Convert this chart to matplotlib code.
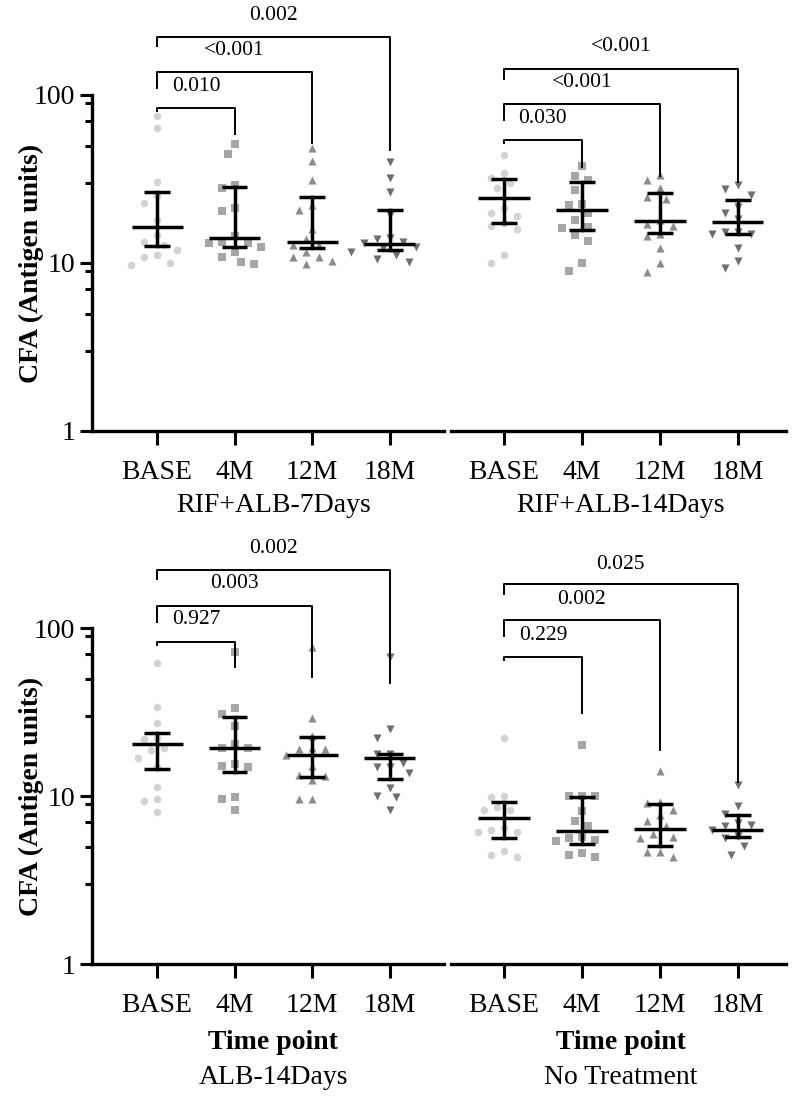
import numpy as np
import matplotlib
matplotlib.use("Agg")
import matplotlib.pyplot as plt
import matplotlib.transforms as mtransforms
from matplotlib.ticker import FixedLocator, NullFormatter

plt.rcParams['font.family'] = ['Liberation Serif', 'DejaVu Serif']

time_points = ['BASE', '4M', '12M', '18M']
group_names = ['RIF+ALB-7Days', 'RIF+ALB-14Days', 'ALB-14Days', 'No Treatment']

# individual values (antigen units)
rif7_base = [74.8, 63.4, 30.3, 25.2, 22.7, 18.0, 14.6, 13.4, 12.8, 11.9, 11.2, 10.9, 10.0, 9.7]
rif7_4m = [51.0, 44.5, 29.3, 28.1, 21.2, 20.5, 14.4, 13.3, 13.2, 13.2, 12.5, 11.7, 10.9, 10.2, 9.8]
rif7_12m = [48.4, 40.7, 31.3, 22.2, 20.8, 16.0, 13.9, 12.8, 12.8, 11.6, 10.9, 10.8, 10.3, 9.9]
rif7_18m = [40.1, 32.1, 26.6, 19.2, 14.0, 13.9, 13.3, 13.2, 12.5, 12.2, 11.7, 11.1, 10.6, 10.2]

rif14_base = [43.9, 34.5, 32.0, 30.1, 27.9, 21.2, 19.8, 19.0, 17.3, 16.5, 16.0, 11.1, 10.0]
rif14_4m = [38.0, 33.1, 31.0, 27.3, 22.6, 22.0, 19.8, 18.0, 16.4, 16.2, 14.6, 13.6, 10.0, 9.0]
rif14_12m = [33.4, 31.0, 27.8, 24.6, 24.2, 18.0, 17.0, 16.5, 14.8, 14.5, 12.3, 10.0, 8.8]
rif14_18m = [29.0, 27.5, 25.5, 21.6, 19.8, 18.4, 15.3, 15.3, 14.8, 14.8, 12.2, 10.3, 9.3]

alb_base = [61.5, 33.8, 27.3, 22.1, 21.8, 19.2, 18.8, 16.9, 14.8, 11.3, 9.6, 9.4, 8.0]
alb_4m = [72.1, 33.5, 30.8, 26.2, 20.4, 19.2, 19.2, 15.5, 15.1, 14.9, 9.8, 9.6, 8.2]
alb_12m = [77.3, 29.2, 22.9, 19.3, 19.0, 19.0, 17.5, 15.0, 13.4, 13.2, 12.5, 9.6, 9.6]
alb_18m = [67.3, 25.1, 22.1, 17.9, 17.7, 15.8, 14.8, 14.8, 13.8, 11.2, 10.0, 9.8, 8.2]

none_base = [22.0, 10.0, 9.9, 8.6, 8.3, 8.2, 6.44, 6.27, 6.07, 6.07, 4.68, 4.48, 4.36]
none_4m = [20.0, 10.0, 10.0, 10.0, 8.1, 7.1, 6.64, 5.72, 5.62, 5.47, 5.42, 4.58, 4.48, 4.36]
none_12m = [14.0, 9.25, 9.1, 8.2, 7.7, 7.1, 6.6, 5.93, 5.72, 5.62, 4.62, 4.62, 4.36]
none_18m = [11.6, 8.7, 7.86, 6.95, 6.75, 6.64, 6.27, 5.8, 5.62, 5.06, 4.48]

# centre line and error bar ends per time point
rif7_mid = [16.4, 14.0, 13.3, 13.0]
rif7_lo = [12.6, 12.4, 12.2, 12.0]
rif7_hi = [26.4, 28.2, 24.6, 20.7]
rif14_mid = [24.4, 20.7, 17.9, 17.6]
rif14_lo = [17.3, 15.7, 15.0, 14.8]
rif14_hi = [31.7, 30.3, 26.1, 23.6]
alb_mid = [20.4, 19.2, 17.5, 16.9]
alb_lo = [14.4, 13.9, 13.0, 12.6]
alb_hi = [23.6, 29.4, 22.3, 17.7]
none_mid = [7.38, 6.21, 6.35, 6.27]
none_lo = [5.62, 5.18, 5.01, 5.72]
none_hi = [9.25, 9.9, 9.0, 7.7]

# p values, BASE vs 4M / 12M / 18M
rif7_p = ['0.010', '<0.001', '0.002']
rif14_p = ['0.030', '<0.001', '<0.001']
alb_p = ['0.927', '0.003', '0.002']
none_p = ['0.229', '0.002', '0.025']

markers = ['o', 's', '^', 'v']
sizes = [30, 26, 34, 34]
colors = ['#d3d3d3', '#a6a6a6', '#8c8c8c', '#6f6f6f']

W, H = 795, 1098
fig = plt.figure(figsize=(W / 100, H / 100), dpi=100)


def px_axes(x0, x1, ytop, ybot):
    return fig.add_axes([x0 / W, 1 - ybot / H, (x1 - x0) / W, (ybot - ytop) / H])


def swarm_x(ax, xc, values, step_px=13.0, min_dist=11.5):
    """Greedy beeswarm; returns x positions in data units."""
    x0, x1 = ax.get_xlim()
    px_per_unit = ax.bbox.width / (x1 - x0)
    ys = [ax.transData.transform((xc, v))[1] for v in values]
    order = np.argsort(ys)[::-1]
    placed = []
    offs = np.zeros(len(values))
    cands = [0.0]
    for k in range(1, 8):
        cands += [-0.5 * k, 0.5 * k]
    for i in order:
        for c in cands:
            ox = c * step_px
            if all(np.hypot(ox - px, ys[i] - py) >= min_dist for px, py in placed):
                break
        placed.append((ox, ys[i]))
        offs[i] = ox
    return xc + offs / px_per_unit


def draw_panel(ax, groups, mid, lo, hi, pvals, brackets, xlim, show_y):
    ax.set_yscale('log')
    ax.set_ylim(1, 100)
    ax.set_xlim(*xlim)
    for i, vals in enumerate(groups):
        xs = swarm_x(ax, i, vals)
        ax.scatter(xs, vals, marker=markers[i], s=sizes[i], color=colors[i],
                   linewidths=0, zorder=2, clip_on=False)
        ax.plot([i, i], [lo[i], hi[i]], color='black', lw=2.5, zorder=3)
        ax.plot([i - 0.165, i + 0.165], [lo[i], lo[i]], color='black', lw=2.5, zorder=3,
                solid_capstyle='butt')
        ax.plot([i - 0.165, i + 0.165], [hi[i], hi[i]], color='black', lw=2.5, zorder=3,
                solid_capstyle='butt')
        ax.plot([i - 0.33, i + 0.33], [mid[i], mid[i]], color='black', lw=2.5, zorder=3,
                solid_capstyle='butt')

    # significance brackets (y in axes fraction)
    trans = mtransforms.blended_transform_factory(ax.transData, ax.transAxes)
    left_drop = [0.009, 0.047, 0.028]
    for j, (level, right_end, label_y) in enumerate(brackets):
        xr = j + 1
        ax.plot([0, 0, xr, xr], [level - left_drop[j], level, level, right_end],
                transform=trans, color='black', lw=1.4, clip_on=False, zorder=4)
        ax.text(xr / 2, label_y, pvals[j], transform=trans, ha='center', va='center',
                fontsize=15.5)

    ax.set_xticks(range(4))
    ax.set_xticklabels(time_points, fontsize=20)
    ax.tick_params(axis='x', length=10, width=2.2, pad=11)
    for s in ['top', 'right']:
        ax.spines[s].set_visible(False)
    ax.spines['bottom'].set_linewidth(2.4)
    if show_y:
        ax.spines['left'].set_linewidth(2.4)
        ax.set_yticks([1, 10, 100])
        ax.set_yticklabels(['1', '10', '100'], fontsize=20)
        ax.yaxis.set_minor_locator(FixedLocator([3, 5, 7, 9, 30, 50, 70, 90]))
        ax.yaxis.set_minor_formatter(NullFormatter())
        ax.tick_params(axis='y', which='major', length=9, width=2.2, pad=3)
        ax.tick_params(axis='y', which='minor', length=5, width=2.2)
        ax.set_ylabel('CFA (Antigen units)', fontsize=20, fontweight='bold')
        ax.yaxis.set_label_coords(-0.137, 0.5)
    else:
        ax.spines['left'].set_visible(False)
        ax.tick_params(axis='y', which='both', left=False, labelleft=False)


ax1 = px_axes(92, 444, 95, 431)
ax2 = px_axes(451, 786, 95, 431)
ax3 = px_axes(92, 444, 628, 964)
ax4 = px_axes(451, 786, 628, 964)

draw_panel(ax1, [rif7_base, rif7_4m, rif7_12m, rif7_18m], rif7_mid, rif7_lo, rif7_hi, rif7_p,
           [(0.962, 0.884, 1.024), (1.069, 0.857, 1.131), (1.173, 0.836, 1.238)],
           (-0.84, 3.70), True)
draw_panel(ax2, [rif14_base, rif14_4m, rif14_12m, rif14_18m], rif14_mid, rif14_lo, rif14_hi,
           rif14_p,
           [(0.866, 0.787, 0.931), (0.973, 0.759, 1.037), (1.077, 0.742, 1.144)],
           (-0.68, 3.62), False)
draw_panel(ax3, [alb_base, alb_4m, alb_12m, alb_18m], alb_mid, alb_lo, alb_hi, alb_p,
           [(0.959, 0.885, 1.024), (1.066, 0.853, 1.133), (1.173, 0.837, 1.237)],
           (-0.84, 3.70), True)
draw_panel(ax4, [none_base, none_4m, none_12m, none_18m], none_mid, none_lo, none_hi, none_p,
           [(0.915, 0.747, 0.979), (1.023, 0.637, 1.085), (1.130, 0.542, 1.190)],
           (-0.68, 3.62), False)

for ax, name in zip([ax1, ax2], group_names[:2]):
    ax.text(1.5, -0.222, name, transform=mtransforms.blended_transform_factory(
        ax.transData, ax.transAxes), ha='center', va='center', fontsize=20)
for ax, name in zip([ax3, ax4], group_names[2:]):
    tr = mtransforms.blended_transform_factory(ax.transData, ax.transAxes)
    ax.text(1.5, -0.235, 'Time point', transform=tr, ha='center', va='center',
            fontsize=20, fontweight='bold')
    ax.text(1.5, -0.338, name, transform=tr, ha='center', va='center', fontsize=20)

fig.savefig('out.png', dpi=100)
